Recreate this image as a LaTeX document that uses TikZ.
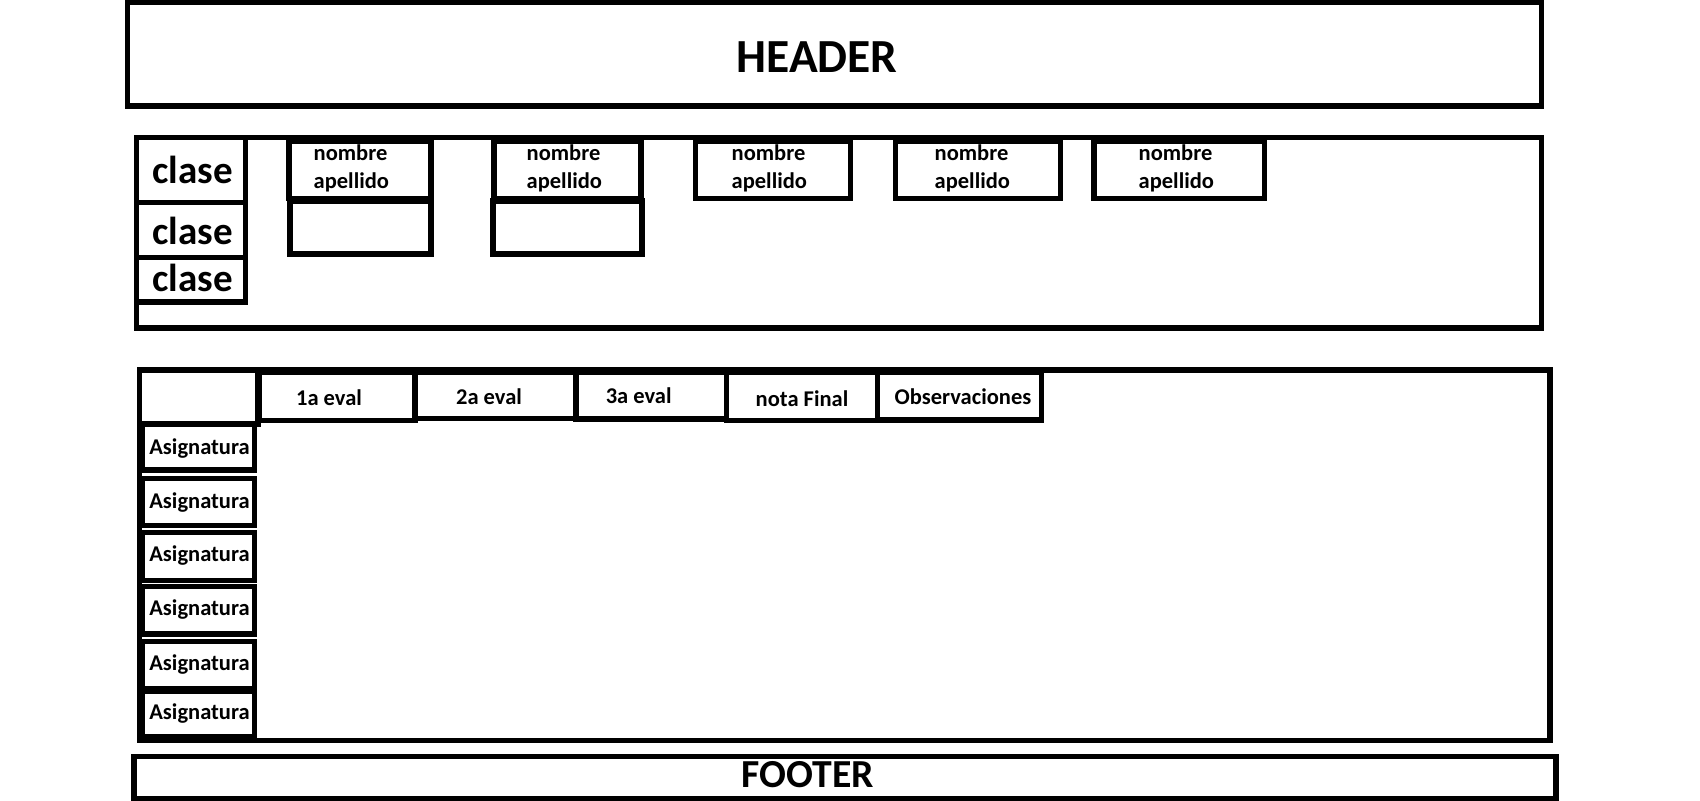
\documentclass[tikz,border=0pt]{standalone}
\usepackage{fontspec}
\setmainfont{Carlito}
\tikzset{
  caja/.style={line width=1.5pt},
  etiq/.style={font=\bfseries\fontsize{6.4}{7.4}\selectfont, inner sep=0pt},
  alumnotxt/.style={font=\bfseries\fontsize{6.4}{8}\selectfont, inner sep=0pt},
  clasetxt/.style={font=\bfseries\fontsize{11.1}{13}\selectfont, inner sep=0pt},
  titulo/.style={font=\bfseries\fontsize{13.5}{16}\selectfont, inner sep=0pt},
  pie/.style={font=\bfseries\fontsize{11.3}{13}\selectfont, inner sep=0pt}
}
\begin{document}
\begin{tikzpicture}[x=0.01cm, y=-0.01cm]
  \useasboundingbox (0,0) rectangle (1700,801);
  % cabecera
  \draw[caja] (127.5,2.5) rectangle (1541.5,106);
  \node[titulo, anchor=base] (header) at (817,72.5) {HEADER};

  % clases y alumnos
  \draw[caja] (136.5,137.5) rectangle (1541.5,328);
  \foreach \i/\ya/\yb/\yt in {1/137.5/202.5/183.3, 2/202.5/257.5/245, 3/257.5/302/291.7} {
    \draw[caja] (136.5,\ya) rectangle (245.5,\yb);
    \node[clasetxt, anchor=base] (clase\i) at (192.5,\yt) {clase};
  }
  \foreach \i/\xa/\xb/\xt in {1/289/431/313, 2/494/641/526, 3/695.5/850.5/731, 4/895.5/1060.5/934, 5/1094/1264.5/1138} {
    \draw[caja] (\xa,141) rectangle (\xb,198.5);
    \node[alumnotxt, anchor=base west, align=left] (alumno\i) at (\xt,189) {nombre\\apellido};
  }
  \draw[caja] (290,201) rectangle (431,254);
  \draw[caja] (493,201) rectangle (642,254);

  % notas
  \draw[caja] (139.5,370) rectangle (1550,740.5);
  \draw[caja] (139.5,370) rectangle (258,424);
  \foreach \i/\xa/\xb/\yb/\xt/\yt/\txt in {1/259/415/420.5/329/406/1a eval, 2/415/576/418.5/489/405/2a eval,
      3/576/726.5/419/638.7/403.3/3a eval, 4/726.5/877.5/420.5/802/406.7/nota Final,
      5/877.5/1041.5/420/963/404.3/Observaciones} {
    \draw[caja] (\xa,372) rectangle (\xb,\yb);
    \node[etiq, anchor=base] (col\i) at (\xt,\yt) {\txt};
  }
  \foreach \i/\ya/\yb/\yt in {1/424/470/455, 2/478.5/525.5/508.3, 3/532.5/580.5/561.7,
      4/586.5/634/616, 5/641.5/689/670.7, 6/691/737/720} {
    \draw[caja] (142.5,\ya) rectangle (254.5,\yb);
    \node[etiq, anchor=base] (asig\i) at (199.5,\yt) {Asignatura};
  }

  % pie
  \draw[caja] (134,756.5) rectangle (1556,798.5);
  \node[pie, anchor=base] (footer) at (808,788) {FOOTER};
\end{tikzpicture}
\end{document}
